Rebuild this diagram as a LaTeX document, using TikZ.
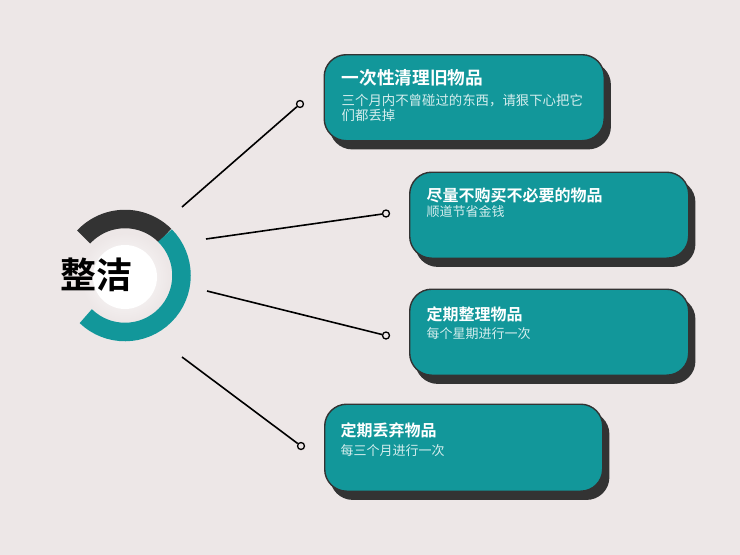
\documentclass[tikz,border=0pt]{standalone}
\usepackage{fontspec}
\setmainfont{Noto Sans CJK SC}
\newfontfamily\cjkbold{Noto Sans CJK SC Bold}
\usetikzlibrary{shadows}
\definecolor{bgc}{HTML}{EDE7E7}
\definecolor{tealc}{HTML}{12979A}
\definecolor{darkc}{HTML}{333333}
\definecolor{subc}{HTML}{D6EEEE}
\tikzset{
  cardbox/.style={draw=darkc, line width=1.4pt, fill=tealc, rounded corners=22pt,
    anchor=north west, inner sep=0pt,
    copy shadow={shadow xshift=6pt, shadow yshift=-8pt, fill=darkc, draw=darkc}},
  cardtitle/.style={anchor=west, inner sep=0pt, text=white, font=\cjkbold\fontsize{16}{19}\selectfont},
  bigtitle/.style={cardtitle, font=\cjkbold\fontsize{17.7}{20}\selectfont},
  cardsub/.style={anchor=west, inner sep=0pt, text=subc, align=left, font=\fontsize{13}{14.3}\selectfont},
  bigsub/.style={cardsub, font=\fontsize{13.4}{14.3}\selectfont},
  endpt/.style={circle, draw=black, line width=1.3pt, fill=bgc, inner sep=0pt, minimum size=7pt},
  spoke/.style={draw=black, line width=1.6pt}
}
\begin{document}
\begin{tikzpicture}[x=1pt,y=-1pt]
\fill[bgc] (0,0) rectangle (740,555);
\useasboundingbox (0,0) rectangle (740,555);
% hub
\shade[inner color=white, outer color=bgc] (125,277) circle (44);
\fill[white] (125,277) circle (32);
\draw[darkc, line width=18.5pt] (125,275.5) ++(-137:56.5) arc (-137:-45:56.5);
\draw[tealc, line width=18.5pt] (125,275.5) ++(-45:56.5) arc (-45:134:56.5);
\node[font=\cjkbold\fontsize{36}{40}\selectfont, inner sep=0pt] (hub) at (96,275) {整洁};
% cards
\node[cardbox, minimum width=280pt, minimum height=86pt] (box1) at (323.5,54) {};
\node[bigtitle] (t1) at (341.5,77.5) {一次性清理旧物品};
\node[bigsub] (s1) at (341.5,108) {三个月内不曾碰过的东西，请狠下心把它\\们都丢掉};

\node[cardbox, minimum width=279pt, minimum height=86pt] (box2) at (409,171.5) {};
\node[cardtitle] (t2) at (426.5,195.5) {尽量不购买不必要的物品};
\node[cardsub] (s2) at (426.5,212) {顺道节省金钱};

\node[cardbox, minimum width=279pt, minimum height=86pt] (box3) at (409,288.5) {};
\node[cardtitle] (t3) at (426.5,314.5) {定期整理物品};
\node[cardsub] (s3) at (426.5,334) {每个星期进行一次};

\node[cardbox, minimum width=278pt, minimum height=87pt] (box4) at (324,403.5) {};
\node[cardtitle] (t4) at (340.5,430) {定期丢弃物品};
\node[cardsub] (s4) at (340.5,451) {每三个月进行一次};
% spokes
\coordinate (p1) at (182,207);
\coordinate (p2) at (206,239);
\coordinate (p3) at (207,291);
\coordinate (p4) at (182,357);
\node[endpt] (c1) at (300,104) {};
\node[endpt] (c2) at (386,213.5) {};
\node[endpt] (c3) at (386,335.5) {};
\node[endpt] (c4) at (301,446) {};
\draw[spoke] (p1) -- (c1);
\draw[spoke] (p2) -- (c2);
\draw[spoke] (p3) -- (c3);
\draw[spoke] (p4) -- (c4);
\end{tikzpicture}
\end{document}
